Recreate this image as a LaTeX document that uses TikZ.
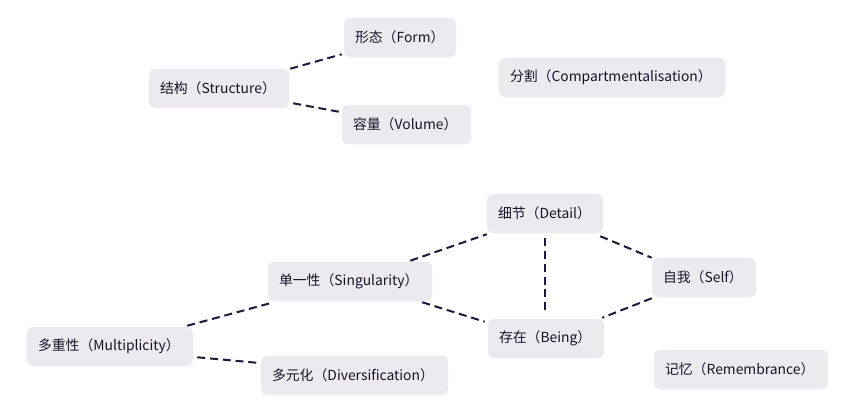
\documentclass[tikz,border=0pt]{standalone}
\usepackage{fontspec}
\setmainfont{Noto Sans CJK SC}
\usetikzlibrary{calc}
\definecolor{boxc}{HTML}{ECEAEE}
\definecolor{textc}{HTML}{15152A}
\definecolor{linec}{HTML}{1A1A3A}
\tikzset{
  box/.style={fill=boxc, rounded corners=4pt, minimum height=39*0.75pt, inner ysep=0pt, inner xsep=11*0.75pt, align=left, text=textc, font=\fontsize{10.4pt}{12pt}\selectfont},
  link/.style={draw=linec, line width=1.5pt, dash pattern=on 6pt off 3.6pt}
}
\begin{document}
\begin{tikzpicture}[x=0.75pt,y=-0.75pt]
\useasboundingbox (0,0) rectangle (847,415);
\node[box, text width=90*0.75pt] (form) at (400,37.5) {形态（Form）};
\node[box, text width=118*0.75pt] (struct) at (219,88.5) {结构（Structure）};
\node[box, text width=107*0.75pt] (vol) at (406.5,124.5) {容量（Volume）};
\node[box, text width=204*0.75pt] (comp) at (612,77.5) {分割（Compartmentalisation）};
\node[box, text width=94*0.75pt] (detail) at (545,213.5) {细节（Detail）};
\node[box, text width=142*0.75pt] (sing) at (350,281.5) {单一性（Singularity）};
\node[box, text width=82*0.75pt] (self) at (704,277.5) {自我（Self）};
\node[box, text width=94*0.75pt] (being) at (546,338.5) {存在（Being）};
\node[box, text width=144*0.75pt] (mult) at (110,346.5) {多重性（Multiplicity）};
\node[box, text width=165*0.75pt] (div) at (354.5,375.5) {多元化（Diversification）};
\node[box, text width=152*0.75pt] (rem) at (741,369.5) {记忆（Remembrance）};

\draw[link] ($(struct.north east)+(1,0)$) -- ($(form.south west)+(-2,-3)$);
\draw[link] ($(struct.south east)+(4,-5)$) -- ($(vol.north west)+(-3,7)$);
\draw[link] ($(mult.north east)+(-6,-1)$) -- ($(sing.south west)+(6,1)$);
\draw[link] ($(mult.south east)+(4,-9)$) -- ($(div.north west)+(-4,7)$);
\draw[link] ($(sing.north east)+(-22,-1)$) -- ($(detail.south west)+(0,1)$);
\draw[link] ($(sing.south east)+(-10,1)$) -- ($(being.north west)+(-3,3)$);
\draw[link] ($(detail.south)+(0,5)$) -- ($(being.north)+(-1,-5)$);
\draw[link] ($(detail.south east)+(-3,3)$) -- (self.north west);
\draw[link] ($(self.south west)+(0,1)$) -- ($(being.north east)+(-2,-1)$);
\end{tikzpicture}
\end{document}
